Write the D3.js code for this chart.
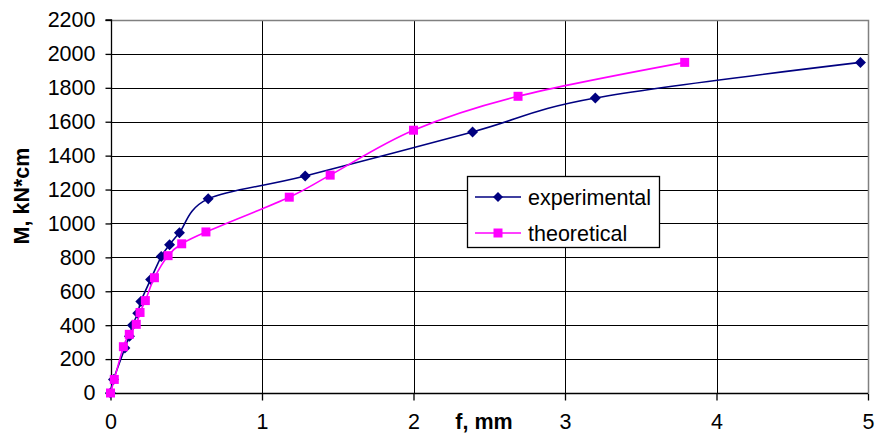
<!DOCTYPE html>
<html>
<head>
<meta charset="utf-8">
<script src="https://cdn.jsdelivr.net/npm/d3@7"></script>
<style>
  body { margin: 0; background: #fff; }
  text { font-family: "Liberation Sans", Arial, sans-serif; }
</style>
</head>
<body>
<div id="chartContainer"></div>
<script>
// deflection f (mm) vs moment M (kN*cm)
const expF = [0, 0.02, 0.095, 0.125, 0.145, 0.18, 0.2, 0.265, 0.335, 0.39, 0.455, 0.645, 1.285, 2.39, 3.2, 4.95];
const expM = [0, 80, 265, 335, 400, 470, 540, 670, 805, 875, 945, 1145, 1280, 1540, 1740, 1950];
const theoF = [0, 0.025, 0.085, 0.124, 0.17, 0.195, 0.23, 0.29, 0.38, 0.47, 0.63, 1.18, 1.45, 2.0, 2.69, 3.79];
const theoM = [0, 80, 273, 346, 405, 475, 545, 680, 810, 880, 950, 1155, 1285, 1550, 1750, 1950];
const xTicks = [0, 1, 2, 3, 4, 5];
const yTicks = [0, 200, 400, 600, 800, 1000, 1200, 1400, 1600, 1800, 2000, 2200];
const seriesNames = ["experimental", "theoretical"];

const W = 875, H = 437;
const margin = { left: 110.5, top: 20, right: 7, bottom: 44 };
const fs = 21.5;

const svg = d3.select("#chartContainer")
  .append("svg")
  .attr("width", W)
  .attr("height", H);

const x = d3.scaleLinear().domain([0, 5]).range([margin.left, W - margin.right]);
const y = d3.scaleLinear().domain([0, 2200]).range([H - margin.bottom, margin.top]);

// grid lines
const grid = svg.append("g").attr("stroke", "#000").attr("stroke-width", 1);
grid.selectAll(".hg")
  .data(yTicks.slice(1, -1))
  .enter().append("line")
  .attr("x1", x(0)).attr("x2", x(5))
  .attr("y1", d => Math.round(y(d)) + 0.5).attr("y2", d => Math.round(y(d)) + 0.5);
grid.selectAll(".vg")
  .data(xTicks.slice(1, -1))
  .enter().append("line")
  .attr("y1", y(0)).attr("y2", y(2200))
  .attr("x1", d => Math.round(x(d)) + 0.5).attr("x2", d => Math.round(x(d)) + 0.5);

// plot area border (grey)
svg.append("path")
  .attr("d", `M${x(0)},${Math.round(y(2200)) + 0.5}H${Math.round(x(5)) + 0.5}V${y(0)}`)
  .attr("fill", "none")
  .attr("stroke", "#808080")
  .attr("stroke-width", 1.5);

// y axis
const gy = svg.append("g")
  .attr("transform", `translate(${Math.round(x(0)) + 0.5},0)`)
  .call(d3.axisLeft(y).tickValues(yTicks).tickFormat(d3.format("d")).tickSize(6).tickPadding(10));
gy.selectAll("text").attr("font-size", fs).attr("fill", "#000")
  .style("font-family", "'Liberation Sans', Arial, sans-serif");
gy.selectAll("line, path").attr("stroke", "#000").attr("stroke-width", 1.3);
gy.select(".domain").attr("d", `M-6,${y(2200)}H0V${y(0)}`);

// x axis
const gx = svg.append("g")
  .attr("transform", `translate(0,${Math.round(y(0)) + 0.5})`)
  .call(d3.axisBottom(x).tickValues(xTicks).tickFormat(d3.format("d")).tickSize(7).tickPadding(13));
gx.selectAll("text").attr("font-size", fs).attr("fill", "#000")
  .style("font-family", "'Liberation Sans', Arial, sans-serif");
gx.selectAll("line, path").attr("stroke", "#000").attr("stroke-width", 1.3);
gx.select(".domain").attr("d", `M${x(0)},0H${x(5)}`);

// axis titles
svg.append("text")
  .attr("x", 484).attr("y", 429)
  .attr("text-anchor", "middle")
  .attr("font-size", fs).attr("font-weight", "bold")
  .text("f, mm");
svg.append("text")
  .attr("transform", "translate(29,196) rotate(-90)")
  .attr("text-anchor", "middle")
  .attr("font-size", fs).attr("font-weight", "bold")
  .text("M, kN*cm");

// series (Excel-style smoothed lines)
const line = d3.line()
  .x(d => x(d[0]))
  .y(d => y(d[1]))
  .curve(d3.curveCardinal.tension(0));

const expData = expF.map((f, i) => [f, expM[i]]);
const theoData = theoF.map((f, i) => [f, theoM[i]]);

const diamond = s => `M0,${-s}L${s},0L0,${s}L${-s},0Z`;
const square = s => `M${-s},${-s}H${s}V${s}H${-s}Z`;

svg.append("path").datum(expData)
  .attr("d", line).attr("fill", "none")
  .attr("stroke", "#000080").attr("stroke-width", 1.6);
svg.append("g").selectAll("path")
  .data(expData)
  .enter().append("path")
  .attr("transform", d => `translate(${x(d[0])},${y(d[1])})`)
  .attr("d", diamond(5.5))
  .attr("fill", "#000080");

svg.append("path").datum(theoData)
  .attr("d", line).attr("fill", "none")
  .attr("stroke", "#ff00ff").attr("stroke-width", 1.6);
svg.append("g").selectAll("path")
  .data(theoData)
  .enter().append("path")
  .attr("transform", d => `translate(${x(d[0])},${y(d[1])})`)
  .attr("d", square(4.5))
  .attr("fill", "#ff00ff");

// legend
const legend = svg.append("g");
legend.append("rect")
  .attr("x", 467.5).attr("y", 176.5)
  .attr("width", 192).attr("height", 71)
  .attr("fill", "#fff").attr("stroke", "#000").attr("stroke-width", 1.3);
const colorsL = ["#000080", "#ff00ff"];
const marks = [diamond(5), square(4.5)];
seriesNames.forEach((name, i) => {
  const ly = 197 + i * 36;
  legend.append("line")
    .attr("x1", 475).attr("x2", 521)
    .attr("y1", ly).attr("y2", ly)
    .attr("stroke", colorsL[i]).attr("stroke-width", 1.6);
  legend.append("path")
    .attr("transform", `translate(498,${ly})`)
    .attr("d", marks[i])
    .attr("fill", colorsL[i]);
  legend.append("text")
    .attr("x", 528).attr("y", ly + 7.5)
    .attr("font-size", fs)
    .text(name);
});
</script>
</body>
</html>
